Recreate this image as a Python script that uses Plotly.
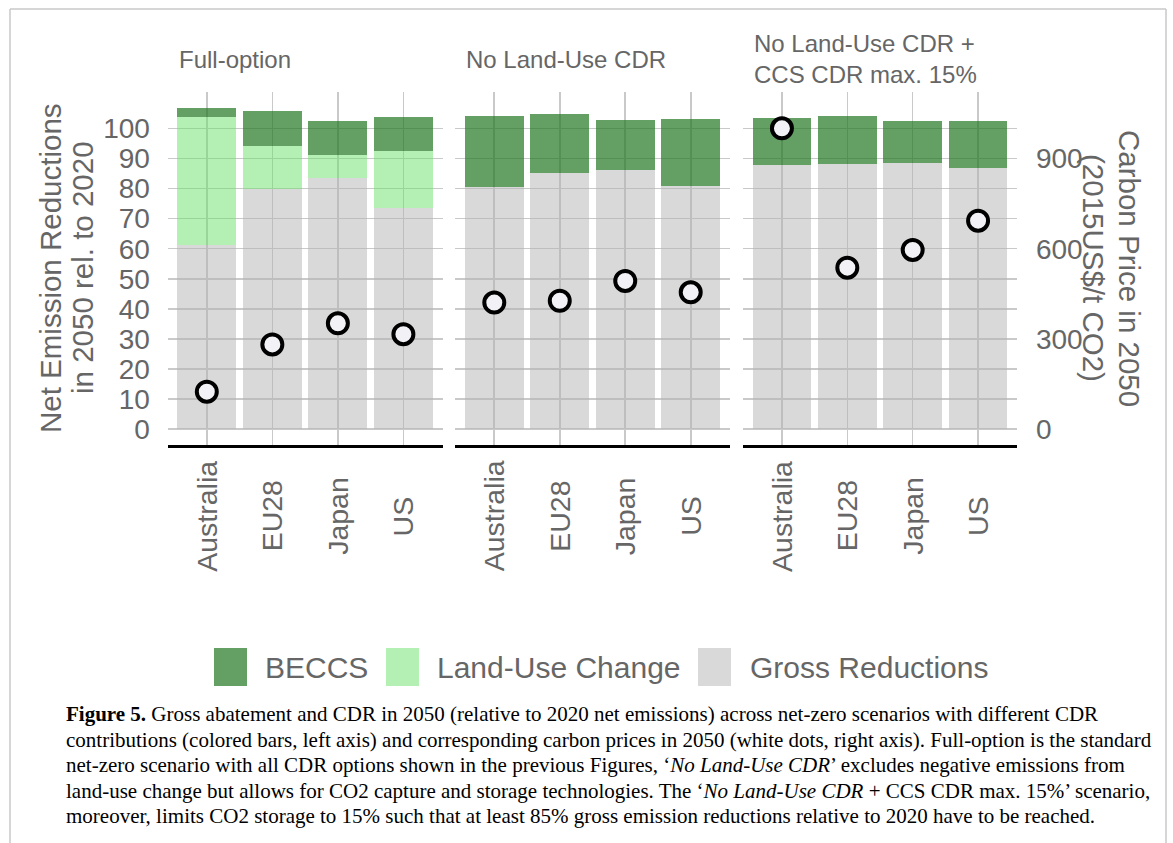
import plotly.graph_objects as go

W, H = 1173, 843

countries = ["Australia", "EU28", "Japan", "US"]
scenario_titles = ["Full-option", "No Land-Use CDR", "No Land-Use CDR +<br>CCS CDR max. 15%"]

gross_full = [61.2, 79.8, 83.4, 73.6]
luc_full = [42.4, 14.4, 7.6, 19.0]
beccs_full = [3.0, 11.6, 11.4, 11.3]
price_full = [125, 282, 352, 316]

gross_nolu = [80.6, 85.0, 86.1, 80.8]
luc_nolu = [0, 0, 0, 0]
beccs_nolu = [23.5, 19.8, 16.7, 22.2]
price_nolu = [421, 427, 493, 455]

gross_ccs = [87.8, 88.1, 88.6, 86.9]
luc_ccs = [0, 0, 0, 0]
beccs_ccs = [15.7, 16.0, 13.9, 15.5]
price_ccs = [1000, 537, 596, 693]

legend_labels = ["BECCS", "Land-Use Change", "Gross Reductions"]
y_ticks_left = [0, 10, 20, 30, 40, 50, 60, 70, 80, 90, 100]
y_ticks_right = [0, 300, 600, 900]

caption_lines = [
    "<b>Figure 5.</b> Gross abatement and CDR in 2050 (relative to 2020 net emissions) across net-zero scenarios with different CDR",
    "contributions (colored bars, left axis) and corresponding carbon prices in 2050 (white dots, right axis). Full-option is the standard",
    "net-zero scenario with all CDR options shown in the previous Figures, \u2018<i>No Land-Use CDR</i>\u2019 excludes negative emissions from",
    "land-use change but allows for CO2 capture and storage technologies. The \u2018<i>No Land-Use CDR</i> + CCS CDR max. 15%\u2019 scenario,",
    "moreover, limits CO2 storage to 15% such that at least 85% gross emission reductions relative to 2020 have to be reached.",
]

# styling
C_BECCS = "rgba(34,119,34,0.7)"
C_LUC = "rgba(105,225,105,0.5)"
C_GROSS = "rgba(179,179,179,0.5)"
C_BECCS_KEY = "rgb(100,160,100)"
C_LUC_KEY = "rgb(180,240,180)"
C_GROSS_KEY = "rgb(217,217,217)"
GRID = "#c9c9c9"
TXT = "#666666"
FONT = "Liberation Sans, Arial, sans-serif"


def fx(px):
    return px / W


def fy(py):
    return 1 - py / H


panels_x = [(167.5, 442.7), (455.0, 730.0), (742.7, 1017.3)]
ytop, ybot = 92.4, 445.3
yrange = [-5.33, 111.93]
yrange_r = [v * 10 for v in yrange]

data = [
    (gross_full, luc_full, beccs_full, price_full),
    (gross_nolu, luc_nolu, beccs_nolu, price_nolu),
    (gross_ccs, luc_ccs, beccs_ccs, price_ccs),
]

fig = go.Figure()
for i, (g, l, b, p) in enumerate(data):
    xa = "x" if i == 0 else f"x{i+1}"
    ya = "y" if i == 0 else f"y{i+1}"
    yp = f"y{i+4}"
    fig.add_trace(go.Bar(x=countries, y=g, marker=dict(color=C_GROSS, line=dict(width=0)),
                         xaxis=xa, yaxis=ya, showlegend=False, name="Gross Reductions"))
    fig.add_trace(go.Bar(x=countries, y=l, marker=dict(color=C_LUC, line=dict(width=0)),
                         xaxis=xa, yaxis=ya, showlegend=False, name="Land-Use Change"))
    fig.add_trace(go.Bar(x=countries, y=b, marker=dict(color=C_BECCS, line=dict(width=0)),
                         xaxis=xa, yaxis=ya, showlegend=False, name="BECCS"))
    fig.add_trace(go.Scatter(x=countries, y=p, mode="markers",
                             marker=dict(size=20, color="#f1f1f6", line=dict(color="black", width=4)),
                             xaxis=xa, yaxis=yp, showlegend=False, name="Carbon price"))

layout = dict(
    width=W, height=H,
    margin=dict(l=0, r=0, t=0, b=0),
    paper_bgcolor="white", plot_bgcolor="rgba(0,0,0,0)",
    barmode="stack", bargap=0.1,
    font=dict(family=FONT, color=TXT),
    showlegend=False,
)

for i, (x0, x1) in enumerate(panels_x):
    xk = "xaxis" if i == 0 else f"xaxis{i+1}"
    yk = "yaxis" if i == 0 else f"yaxis{i+1}"
    ya = "y" if i == 0 else f"y{i+1}"
    xa = "x" if i == 0 else f"x{i+1}"
    layout[xk] = dict(domain=[fx(x0), fx(x1)], anchor=ya, type="category",
                      categoryorder="array", categoryarray=countries,
                      range=[-0.6, 3.6], showticklabels=False, ticks="",
                      showgrid=True, gridcolor=GRID, gridwidth=1.6,
                      showline=True, linecolor="black", linewidth=2.5,
                      zeroline=False, fixedrange=True)
    layout[yk] = dict(domain=[fy(ybot), fy(ytop)], anchor=xa, range=yrange,
                      tickvals=y_ticks_left, showgrid=True, gridcolor=GRID, gridwidth=1.6,
                      zeroline=False, showline=False,
                      showticklabels=(i == 0), ticks="outside" if i == 0 else "",
                      ticklen=11, tickcolor="rgba(0,0,0,0)",
                      tickfont=dict(size=28, color=TXT, family=FONT))
    # carbon price axes
    pk = f"yaxis{i+4}"
    layout[pk] = dict(overlaying=ya, anchor=xa, range=yrange_r,
                      showgrid=False, zeroline=False, fixedrange=True)
    if i == 2:
        layout[pk].update(side="right", tickvals=y_ticks_right, ticks="outside",
                          ticklen=12, tickcolor="rgba(0,0,0,0)",
                          tickfont=dict(size=28, color=TXT, family=FONT))
    else:
        layout[pk].update(visible=False)

fig.update_layout(**layout)

ann = []
# facet strip titles
for i, (x0, x1) in enumerate(panels_x):
    xa = "x" if i == 0 else f"x{i+1}"
    ann.append(dict(text=scenario_titles[i], xref="paper", yref="paper",
                    x=fx(x0 + 9), y=fy(59), xanchor="left", yanchor="middle",
                    align="left", showarrow=False,
                    font=dict(size=24, color=TXT, family=FONT)))
    for c in countries:
        ann.append(dict(text=c, xref=xa, yref="paper", x=c, y=fy(516),
                        xanchor="center", yanchor="middle", textangle=-90,
                        showarrow=False, font=dict(size=28.5, color=TXT, family=FONT)))

# axis titles
ann.append(dict(text="Net Emission Reductions", xref="paper", yref="paper",
                x=fx(50), y=fy(268), xanchor="center", yanchor="middle", textangle=-90,
                showarrow=False, font=dict(size=29.5, color=TXT, family=FONT)))
ann.append(dict(text="in 2050 rel. to 2020", xref="paper", yref="paper",
                x=fx(82), y=fy(268), xanchor="center", yanchor="middle", textangle=-90,
                showarrow=False, font=dict(size=29.5, color=TXT, family=FONT)))
ann.append(dict(text="Carbon Price in 2050", xref="paper", yref="paper",
                x=fx(1130), y=fy(268), xanchor="center", yanchor="middle", textangle=90,
                showarrow=False, font=dict(size=29.5, color=TXT, family=FONT)))
ann.append(dict(text="(2015US$/t CO2)", xref="paper", yref="paper",
                x=fx(1094), y=fy(268), xanchor="center", yanchor="middle", textangle=90,
                showarrow=False, font=dict(size=29.5, color=TXT, family=FONT)))

# legend (manual)
shapes = []
legend_keys = [(214, 247, C_BECCS_KEY, 263), (386, 419, C_LUC_KEY, 435), (698, 731, C_GROSS_KEY, 748)]
for (k0, k1, col, tx), lab in zip(legend_keys, legend_labels):
    shapes.append(dict(type="rect", xref="paper", yref="paper",
                       x0=fx(k0), x1=fx(k1), y0=fy(686), y1=fy(648),
                       fillcolor=col, line=dict(width=0)))
    ann.append(dict(text=lab, xref="paper", yref="paper", x=fx(tx), y=fy(667),
                    xanchor="left", yanchor="middle", showarrow=False,
                    font=dict(size=30, color=TXT, family=FONT)))

# caption
cap_y = [714, 739.5, 765, 790.5, 816]
for line, yy in zip(caption_lines, cap_y):
    ann.append(dict(text=line, xref="paper", yref="paper", x=fx(64), y=fy(yy),
                    xanchor="left", yanchor="middle", align="left", showarrow=False,
                    font=dict(size=21, color="black", family="Liberation Serif, Times New Roman, serif")))

# frame border
BC = "#c8c8c8"
shapes.append(dict(type="line", xref="paper", yref="paper", x0=fx(10), x1=fx(10), y0=0, y1=fy(9),
                   line=dict(color=BC, width=1.5)))
shapes.append(dict(type="line", xref="paper", yref="paper", x0=fx(10), x1=fx(1166), y0=fy(9), y1=fy(9),
                   line=dict(color=BC, width=1.5)))
shapes.append(dict(type="line", xref="paper", yref="paper", x0=fx(1166), x1=fx(1166), y0=0, y1=fy(9),
                   line=dict(color=BC, width=1.5)))

fig.update_layout(annotations=ann, shapes=shapes)
fig.write_html("out.html", config={"displayModeBar": False, "staticPlot": True},
               post_script="document.body.style.margin='0';document.body.style.padding='0';")
